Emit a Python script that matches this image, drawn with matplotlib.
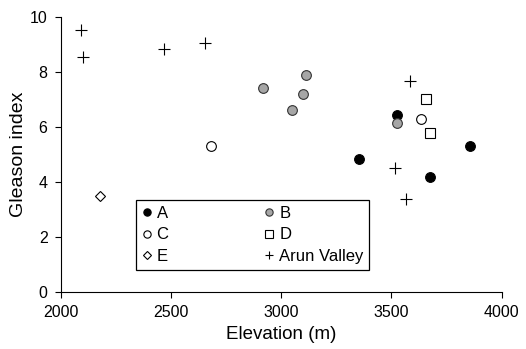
import matplotlib.pyplot as plt

plt.rcParams['font.family'] = ['Liberation Sans', 'DejaVu Sans']

# Elevation (m), Gleason index per group
a_x = [3524, 3858, 3355, 3675]
a_y = [6.44, 5.31, 4.82, 4.17]
b_x = [2918, 3111, 3097, 3049, 3524]
b_y = [7.41, 7.90, 7.21, 6.62, 6.13]
c_x = [2683, 3633]
c_y = [5.31, 6.28]
d_x = [3655, 3675]
d_y = [7.02, 5.79]
e_x = [2178]
e_y = [3.50]
arun_x = [2091, 2101, 2467, 2655, 3584, 3515, 3566]
arun_y = [9.52, 8.53, 8.84, 9.04, 7.68, 4.52, 3.38]

fig = plt.figure(figsize=(5.26, 3.49), dpi=100)
ax = fig.add_axes([0.1154, 0.1625, 0.8384, 0.7895])

ms = 7
h_a, = ax.plot(a_x, a_y, 'o', ms=ms, mfc='black', mec='black', mew=0.8, label='A')
h_b, = ax.plot(b_x, b_y, 'o', ms=ms, mfc='#a6a6a6', mec='#333333', mew=0.8, label='B')
h_c, = ax.plot(c_x, c_y, 'o', ms=ms, mfc='white', mec='black', mew=0.8, label='C')
h_d, = ax.plot(d_x, d_y, 's', ms=ms, mfc='white', mec='black', mew=0.8, label='D')
h_e, = ax.plot(e_x, e_y, 'D', ms=5.5, mfc='white', mec='black', mew=0.8, label='E')
h_p, = ax.plot(arun_x, arun_y, '+', ms=8, mec='black', mew=0.8, label='Arun Valley')

ax.set_xlim(2000, 4000)
ax.set_ylim(0, 10)
ax.set_xticks([2000, 2500, 3000, 3500, 4000])
ax.set_yticks([0, 2, 4, 6, 8, 10])
ax.spines['top'].set_visible(False)
ax.spines['right'].set_visible(False)
ax.tick_params(direction='out', length=4.5, labelsize=11.5, pad=5)
ax.set_xlabel('Elevation (m)', fontsize=13.5, labelpad=4)
ax.set_ylabel('Gleason index', fontsize=14, labelpad=2)

leg = ax.legend([h_a, h_c, h_e, h_b, h_d, h_p],
                ['A', 'C', 'E', 'B', 'D', 'Arun Valley'],
                ncol=2, loc='lower left', bbox_to_anchor=(0.17, 0.081, 0.53, 0.251),
                mode='expand', fontsize=12, markerscale=0.75, handlelength=0.6,
                handletextpad=0.3, labelspacing=0.4, borderpad=0.35, borderaxespad=0,
                fancybox=False, edgecolor='black', framealpha=1)
leg.get_frame().set_linewidth(0.9)

fig.savefig('out.png', dpi=100)
